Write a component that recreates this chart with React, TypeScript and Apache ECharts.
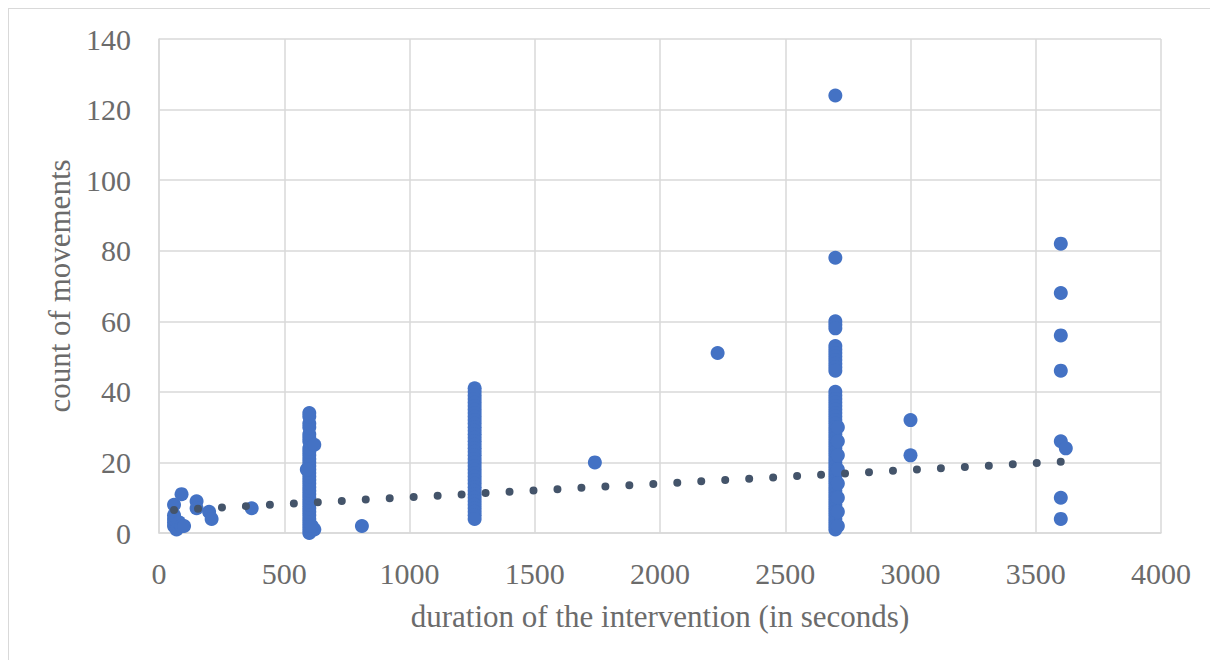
import React, { useEffect, useRef } from "react";
import * as echarts from "echarts";

// duration of the intervention (seconds) and count of movements
const durationsLeft = [60, 60, 60, 60, 60, 70, 80, 90, 90, 100, 150, 150, 200, 210, 370];
const countsLeft = [2, 3, 4, 5, 8, 1, 3, 11, 2, 2, 9, 7, 6, 4, 7];

const durations600 = [600, 600, 600, 600, 600, 600, 600, 600, 600, 600, 600, 600, 600, 600, 600, 600, 600, 600, 600, 600, 600, 600, 600, 600, 600, 600, 600, 600, 600, 600, 600, 600, 620, 590, 620, 610, 810];
const counts600 = [0, 1, 2, 3, 4, 5, 6, 7, 8, 9, 10, 11, 12, 13, 14, 15, 16, 17, 18, 19, 20, 21, 22, 23, 24, 26, 27, 28, 30, 31, 33, 34, 25, 18, 1, 2, 2];

const counts1260 = [41, 40, 39, 38, 37, 36, 35, 34, 33, 32, 31, 30, 29, 28, 27, 26, 25, 24, 23, 22, 21, 20, 19, 18, 17, 16, 15, 14, 13, 12, 11, 10, 9, 8, 7, 6, 5, 4];

const durationsMid = [1740, 2230, 3000, 3000];
const countsMid = [20, 51, 32, 22];

const counts2700 = [124, 78, 60, 59, 58, 53, 52, 51, 50, 49, 48, 47, 46, 40, 39, 38, 37, 36, 35, 34, 33, 32, 31, 30, 29, 28, 27, 26, 25, 24, 23, 22, 21, 20, 19, 18, 17, 16, 15, 14, 13, 12, 11, 10, 9, 8, 7, 6, 5, 4, 3, 2, 1];
const counts2710 = [30, 26, 22, 18, 14, 10, 6, 2];

const durations3600 = [3600, 3600, 3600, 3600, 3600, 3620, 3600, 3600];
const counts3600 = [82, 68, 56, 46, 26, 24, 10, 4];

// linear trendline endpoints
const trendX = [60, 3600];
const trendY = [6.5, 20.2];

const xTicks = { min: 0, max: 4000, interval: 500 };
const yTicks = { min: 0, max: 140, interval: 20 };

function buildPoints(): number[][] {
  const pts: number[][] = [];
  durationsLeft.forEach((d, i) => pts.push([d, countsLeft[i]]));
  durations600.forEach((d, i) => pts.push([d, counts600[i]]));
  counts1260.forEach((c) => pts.push([1260, c]));
  durationsMid.forEach((d, i) => pts.push([d, countsMid[i]]));
  counts2700.forEach((c) => pts.push([2700, c]));
  counts2710.forEach((c) => pts.push([2710, c]));
  durations3600.forEach((d, i) => pts.push([d, counts3600[i]]));
  return pts;
}

export default function App() {
  const ref = useRef<HTMLDivElement>(null);
  useEffect(() => {
    if (!ref.current) return;
    const chart = echarts.init(ref.current, undefined, { renderer: "svg" });
    const font = "'Liberation Serif', 'DejaVu Serif', serif";
    const grid = "#d9d9d9";
    const textColor = "#6b6b6b";
    chart.setOption({
      animation: false,
      grid: { left: 150, top: 30, width: 1002, height: 494, containLabel: false },
      xAxis: {
        type: "value",
        ...xTicks,
        name: "duration of the intervention (in seconds)",
        nameLocation: "middle",
        nameGap: 68,
        nameTextStyle: { fontFamily: font, fontSize: 31, color: textColor },
        axisLine: { show: true, lineStyle: { color: grid, width: 1.5 } },
        axisTick: { show: false },
        splitLine: { show: true, lineStyle: { color: grid, width: 1.5 } },
        axisLabel: {
          fontFamily: font,
          fontSize: 30,
          color: textColor,
          margin: 25,
          formatter: (v: number) => String(v),
        },
      },
      yAxis: {
        type: "value",
        ...yTicks,
        name: "count of movements",
        nameLocation: "middle",
        nameGap: 81,
        nameTextStyle: { fontFamily: font, fontSize: 31, color: textColor },
        axisLine: { show: true, lineStyle: { color: grid, width: 1.5 } },
        axisTick: { show: false },
        splitLine: { show: true, lineStyle: { color: grid, width: 1.5 } },
        axisLabel: {
          fontFamily: font,
          fontSize: 30,
          color: textColor,
          margin: 28,
          formatter: (v: number) => String(v),
        },
      },
      series: [
        {
          type: "scatter",
          data: buildPoints(),
          symbolSize: 14,
          itemStyle: { color: "#4472C4", opacity: 1 },
          z: 2,
        },
        {
          type: "line",
          data: trendX.map((x, i) => [x, trendY[i]]),
          showSymbol: false,
          symbol: "none",
          lineStyle: { color: "#44546A", width: 8, type: [0, 24], cap: "round" },
          z: 3,
        },
      ],
    });
    return () => chart.dispose();
  }, []);
  return (
    <div
      ref={ref}
      style={{
        width: 1210,
        height: 652,
        boxSizing: "border-box",
        borderLeft: "1.5px solid #d9d9d9",
        borderTop: "1.5px solid #d9d9d9",
      }}
    />
  );
}
